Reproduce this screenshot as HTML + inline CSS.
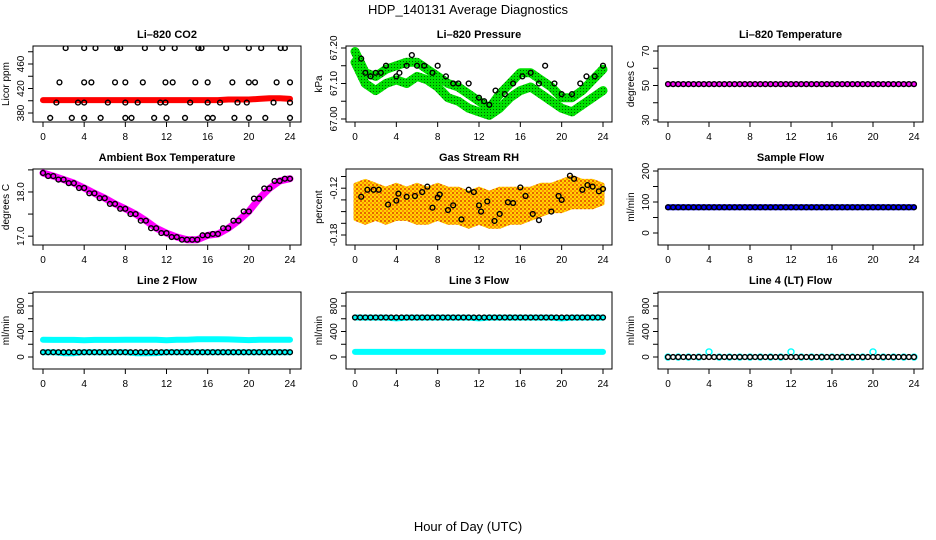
<!DOCTYPE html>
<html><head><meta charset="utf-8"><style>
html,body{margin:0;padding:0;background:#fff;}
svg{display:block;font-family:"Liberation Sans",sans-serif;}
</style></head><body>
<svg id="chart" width="936" height="540" viewBox="0 0 936 540">
<defs>
<pattern id="rhpat" width="4" height="4" patternUnits="userSpaceOnUse">
<rect width="4" height="4" fill="#ffd400"/><circle cx="1" cy="1" r="1" fill="#e04000"/><circle cx="3" cy="3" r="1" fill="#ff8000"/>
</pattern>
<pattern id="grpat" width="3" height="3" patternUnits="userSpaceOnUse">
<rect width="3" height="3" fill="#00e000"/><rect x="1" y="1" width="1" height="1" fill="#006000"/>
</pattern>
</defs>
<text x="468" y="14" text-anchor="middle" font-size="13">HDP_140131  Average Diagnostics</text>
<text x="468" y="531" text-anchor="middle" font-size="13">Hour of Day (UTC)</text>
</svg>
<script>
// ---------- data ----------
const hours = [0,1,2,3,4,5,6,7,8,9,10,11,12,13,14,15,16,17,18,19,20,21,22,23,24];
const xTicks = [0,4,8,12,16,20,24];

const co2Red = [401,401,401,401,401,401,401,401,401,401,401,401,401,401,401,401,401,401,402,402,402,403,404,404,403];
const co2BlkX = [2.2,4,5.1,7.2,7.5,9.9,11.6,12.8,15.1,15.4,17.8,20,21.2,23.1,23.5, 1.6,4,4.7,7,8,9.7,11.9,12.6,14.8,16,18.4,20,20.6,22.7,24, 1.3,3.4,4,6.3,8,9.2,11.4,11.9,14.3,16,17.2,18.9,19.8,22.4,24, 0.7,2.8,4,5.6,8,8.6,10.8,12,13.8,16,16.5,18.6,20,21.6,24];
const co2BlkY = [486,486,486,486,486,486,486,486,486,486,486,486,486,486,486, 430,430,430,430,430,430,430,430,430,430,430,430,430,430,430, 397,397,397,397,397,397,397,397,397,397,397,397,397,397,397, 372,372,372,372,372,372,372,372,372,372,372,372,372,372,372];

const presA = [67.19,67.13,67.12,67.14,67.15,67.16,67.16,67.14,67.12,67.10,67.09,67.07,67.05,67.03,67.07,67.10,67.13,67.13,67.11,67.09,67.06,67.06,67.08,67.11,67.14];
const presB = [67.16,67.10,67.08,67.10,67.11,67.10,67.12,67.11,67.09,67.06,67.05,67.03,67.02,67.01,67.03,67.06,67.08,67.09,67.07,67.05,67.03,67.02,67.04,67.06,67.08];
const presBlkX = [0.6,1,1.5,2,2.5,3,4,4.3,5,5.5,6,6.7,7.5,8,8.8,9.5,10,11,12,12.5,13,13.6,14.5,15.3,16.2,17,17.8,18.4,19.3,20,21,21.8,22.4,23.2,24];
const presBlkY = [67.17,67.13,67.12,67.13,67.13,67.15,67.12,67.13,67.15,67.18,67.15,67.15,67.13,67.15,67.12,67.10,67.10,67.10,67.06,67.05,67.04,67.08,67.07,67.10,67.12,67.13,67.10,67.15,67.10,67.07,67.07,67.10,67.12,67.12,67.15];

const tempVals = [50.8,50.8,50.8,50.8,50.8,50.8,50.8,50.8,50.8,50.8,50.8,50.8,50.8,50.8,50.8,50.8,50.8,50.8,50.8,50.8,50.8,50.8,50.8,50.8,50.8];

const ambVals = [18.43,18.36,18.28,18.20,18.09,17.97,17.86,17.73,17.62,17.50,17.35,17.18,17.07,16.98,16.92,16.92,17.02,17.05,17.18,17.35,17.56,17.85,18.08,18.25,18.30];

const rhHigh = [-0.115,-0.11,-0.115,-0.12,-0.115,-0.12,-0.115,-0.12,-0.115,-0.12,-0.12,-0.125,-0.12,-0.125,-0.12,-0.12,-0.12,-0.12,-0.115,-0.115,-0.11,-0.105,-0.11,-0.11,-0.115];
const rhLow = [-0.16,-0.165,-0.16,-0.165,-0.16,-0.16,-0.165,-0.165,-0.16,-0.165,-0.165,-0.17,-0.165,-0.17,-0.17,-0.165,-0.165,-0.16,-0.155,-0.15,-0.15,-0.145,-0.145,-0.145,-0.14];
const rhBlkX = [0.6,1.2,1.8,2.3,3.2,4,4.2,5,5.8,6.5,7,7.5,8,8.2,9,9.5,10.3,11,11.5,12,12.2,12.8,13.5,14,14.8,15.3,16,16.5,17.2,17.8,19,19.7,20,20.8,21.2,22,22.5,23,23.6,24];
const rhBlkY = [-0.131,-0.122,-0.122,-0.122,-0.141,-0.136,-0.127,-0.131,-0.130,-0.125,-0.118,-0.145,-0.132,-0.128,-0.148,-0.142,-0.160,-0.122,-0.125,-0.142,-0.150,-0.137,-0.162,-0.153,-0.138,-0.139,-0.119,-0.130,-0.153,-0.161,-0.150,-0.130,-0.135,-0.104,-0.108,-0.122,-0.116,-0.118,-0.124,-0.121];

const sampleBlue = [83,83,83,83,83,83,83,83,83,83,83,83,83,83,83,83,83,83,83,83,83,83,83,83,83];
const sampleBlk = [83,83,83,83,83,83,83,83,83,83,83,83,83,83,83,83,83,83,83,83,83,83,83,83,83];

const l2CyanHi = [270,268,268,268,262,268,268,268,270,270,270,270,262,270,272,280,278,280,276,272,265,270,270,270,270];
const l2CyanLo = [75,75,60,60,75,75,70,75,75,60,60,62,75,75,75,75,75,75,75,75,75,75,75,75,75];
const l2Blk = [75,75,75,75,75,75,75,75,75,75,75,75,75,75,75,75,75,75,75,75,75,75,75,75,75];

const l3CyanHi = [620,618,618,618,605,618,618,618,618,618,618,618,605,618,618,618,618,618,618,618,605,618,618,618,618];
const l3Blk = [620,620,620,620,620,620,620,620,620,620,620,620,620,620,620,620,620,620,620,620,620,620,620,620,620];
const l3CyanLo = [80,80,80,80,80,80,80,80,80,80,80,80,80,80,80,80,80,80,80,80,80,80,80,80,80];

const l4Cyan = [0,0,0,0,80,0,0,0,0,0,0,0,80,0,0,0,0,0,0,0,80,0,0,0,0];
const l4Blk = [0,0,0,0,0,0,0,0,0,0,0,0,0,0,0,0,0,0,0,0,0,0,0,0,0];

// ---------- drawing ----------
const NS = "http://www.w3.org/2000/svg";
const svg = document.getElementById('chart');
function mk(tag, attrs, parent){
  const e = document.createElementNS(NS, tag);
  for (const k in attrs) e.setAttribute(k, attrs[k]);
  (parent||svg).appendChild(e);
  return e;
}
const cols = [{l:33,r:301,x0:43,x24:290},{l:346,r:612,x0:355,x24:603},{l:658,r:923,x0:668,x24:914}];
const rows = [{t:46,b:122},{t:169,b:245},{t:292,b:369}];

function panel(name, title, ci, ri, dmin, dmax, yTicks, yLabels, ylab){
  const c = cols[ci], r = rows[ri];
  const g = mk('g', {});
  
  
  const xs = v => c.x0 + (c.x24 - c.x0) * v / 24;
  const ys = v => r.b - (r.b - r.t) * (v - dmin) / (dmax - dmin);
  const box = mk('rect', {x:c.l, y:r.t, width:c.r-c.l, height:r.b-r.t, fill:'none', stroke:'#000', 'stroke-width':1}, g);
  
  
  const tt = mk('text', {x:(c.l+c.r)/2, y:r.t-8, 'text-anchor':'middle', 'font-size':11, 'font-weight':'bold'}, g);
  tt.textContent = title;
  
  
  const xa = mk('g', {}, g);
  
  
  xTicks.forEach(t => {
    mk('line', {x1:xs(t), x2:xs(t), y1:r.b, y2:r.b+5, stroke:'#000'}, xa);
    const tx = mk('text', {x:xs(t), y:r.b+18, 'text-anchor':'middle', 'font-size':10}, xa);
    tx.textContent = t;
  });
  const ya = mk('g', {}, g);
  
  
  yTicks.forEach((t,i) => {
    mk('line', {x1:c.l, x2:c.l-5, y1:ys(t), y2:ys(t), stroke:'#000'}, ya);
    if (yLabels[i] !== '') {
      const tx = mk('text', {x:c.l-9, y:ys(t), 'text-anchor':'middle', 'font-size':10, transform:`rotate(-90 ${c.l-9} ${ys(t)})`}, ya);
      tx.textContent = yLabels[i];
    }
  });
  const yl = mk('text', {x:c.l-24, y:(r.t+r.b)/2, 'text-anchor':'middle', 'font-size':10, transform:`rotate(-90 ${c.l-24} ${(r.t+r.b)/2})`}, g);
  yl.textContent = ylab;
  
  
  const clip = 'clip-' + name;
  const cp = mk('clipPath', {id:clip}, g);
  mk('rect', {x:c.l, y:r.t, width:c.r-c.l, height:r.b-r.t}, cp);
  const plot = mk('g', {'clip-path':`url(#${clip})`}, g);
  return {xs, ys, plot, name};
}
function band(p, sname, xArr, vals, color, width){
  const pts = xArr.map((x,i) => p.xs(x).toFixed(1) + ',' + p.ys(vals[i]).toFixed(1)).join(' ');
  const pl = mk('polyline', {points:pts, fill:'none', stroke:color, 'stroke-width':width, 'stroke-linejoin':'round', 'stroke-linecap':'round'}, p.plot);
  
  
}
function area(p, sname, xArr, hi, lo, fill){
  const top = xArr.map((x,i) => p.xs(x).toFixed(1) + ',' + p.ys(hi[i]).toFixed(1));
  const bot = xArr.map((x,i) => p.xs(x).toFixed(1) + ',' + p.ys(lo[i]).toFixed(1)).reverse();
  const pg = mk('polygon', {points:top.concat(bot).join(' '), fill:fill, stroke:fill, 'stroke-width':3, 'stroke-linejoin':'round'}, p.plot);
  
  
}
function dots(p, sname, xArr, yArr, color, rr){
  const gg = mk('g', {}, p.plot);
  
  
  xArr.forEach((x,i) => {
    const c = mk('circle', {cx:p.xs(x), cy:p.ys(yArr[i]), r:rr||2.4, fill:'none', stroke:color, 'stroke-width':1.4}, gg);
    
    
  });
}
function hourDots(p, sname, vals, color){
  const xx = hours.slice(0, vals.length);
  dots(p, sname, xx, vals, color);
  const hx = [], hy = [];
  for (let i = 0; i < vals.length - 1; i++){ hx.push(hours[i] + 0.5); hy.push(vals[i+1]); }
  dots(p, sname + '-half', hx, hy, color);
}

// CO2
let p = panel('co2-panel','Li\u2013820 CO2',0,0,365.3,489.4,[380,400,420,440,460,480],['380','','420','','460',''],'Licor ppm');
band(p,'red-series',hours,co2Red,'#ff0000',6);
dots(p,'black-points',co2BlkX,co2BlkY,'#000');
// Pressure
p = panel('pressure-panel','Li\u2013820 Pressure',1,0,66.9915,67.2056,[67.00,67.05,67.10,67.15,67.20],['67.00','','67.10','','67.20'],'kPa');
band(p,'green-upper',hours,presA,'url(#grpat)',9);
band(p,'green-lower',hours,presB,'url(#grpat)',9);
dots(p,'black-points',presBlkX,presBlkY,'#000');
// Li-820 Temperature
p = panel('li820-temp-panel','Li\u2013820 Temperature',2,0,28.84,72.9,[30,40,50,60,70],['30','','50','','70'],'degrees C');
band(p,'magenta-series',hours,tempVals,'#ff00ff',5);
hourDots(p,'black-points',tempVals,'#000');
// Ambient
p = panel('ambient-temp-panel','Ambient Box Temperature',0,1,16.80,18.52,[17.0,17.5,18.0,18.5],['17.0','','18.0',''],'degrees C');
band(p,'magenta-series',hours,ambVals,'#ff00ff',7);
hourDots(p,'black-points',ambVals,'#000');
// RH
p = panel('rh-panel','Gas Stream RH',1,1,-0.1928,-0.0954,[-0.18,-0.165,-0.15,-0.135,-0.12,-0.105],['-0.18','','','','-0.12',''],'percent');
area(p,'orange-cloud',hours,rhHigh,rhLow,'url(#rhpat)');
dots(p,'black-points',rhBlkX,rhBlkY,'#000');
// Sample flow
p = panel('sample-flow-panel','Sample Flow',2,1,-38.7,206.5,[0,50,100,150,200],['0','','100','','200'],'ml/min');
band(p,'blue-series',hours,sampleBlue,'#0000ff',6);
hourDots(p,'black-points',sampleBlk,'#000');
// Line 2
p = panel('line2-flow-panel','Line 2 Flow',0,2,-188,1019.6,[0,200,400,600,800,1000],['0','','400','','800',''],'ml/min');
band(p,'cyan-upper',hours,l2CyanHi,'#00ffff',6);
band(p,'cyan-lower',hours,l2CyanLo,'#00ffff',6);
hourDots(p,'black-points',l2Blk,'#000');
// Line 3
p = panel('line3-flow-panel','Line 3 Flow',1,2,-188,1019.6,[0,200,400,600,800,1000],['0','','400','','800',''],'ml/min');
band(p,'cyan-upper',hours,l3CyanHi,'#00ffff',6);
band(p,'cyan-lower',hours,l3CyanLo,'#00ffff',6);
hourDots(p,'black-points',l3Blk,'#000');
// Line 4
p = panel('line4-flow-panel','Line 4 (LT) Flow',2,2,-188,1019.6,[0,200,400,600,800,1000],['0','','400','','800',''],'ml/min');
dots(p,'cyan-points',hours,l4Cyan,'#00ffff',3);
hourDots(p,'black-points',l4Blk,'#000');
</script>
</body></html>
